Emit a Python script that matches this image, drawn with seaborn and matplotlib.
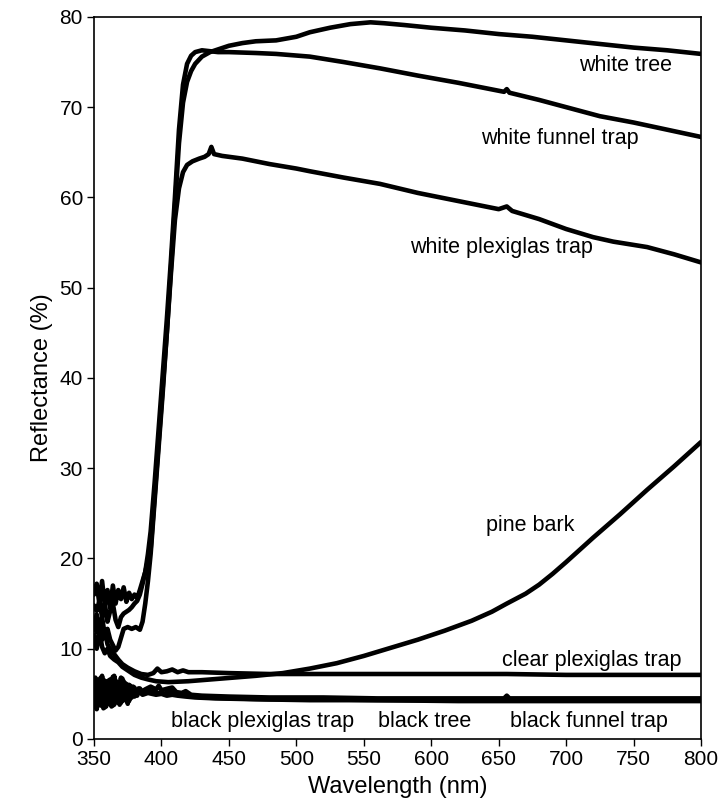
import matplotlib
matplotlib.use("Agg")
import matplotlib.pyplot as plt
import seaborn as sns
import pandas as pd

# ---------------- data ----------------
wt_wl = [350,352,354,356,358,360,362,364,366,368,370,372,374,376,378,380,382,384,386,388,390,392,395,398,401,404,407,410,413,416,419,422,425,430,436,442,450,460,470,485,500,510,525,540,555,565,580,600,625,650,675,700,725,750,775,800]
wt_r = [16.0,17.2,15.0,17.5,14.8,16.5,14.5,17.0,15.0,16.5,15.5,16.8,15.2,16.2,15.5,16.0,15.6,16.5,17.5,18.5,19.8,21.0,27.0,33.0,39.0,45.0,52.0,59.0,66.0,70.5,72.8,74.0,74.8,75.6,76.1,76.4,76.8,77.1,77.3,77.4,77.8,78.3,78.8,79.2,79.4,79.3,79.1,78.8,78.5,78.1,77.8,77.4,77.0,76.6,76.3,75.9]

wf_wl = [350,352,354,356,358,360,362,364,366,368,370,372,374,376,378,380,382,384,386,388,390,392,395,398,401,404,407,410,413,416,419,422,425,430,436,442,450,470,485,510,535,562,590,620,654,656,658,680,700,725,750,775,800]
wf_r = [14.8,14.2,15.3,13.5,15.0,13.0,14.2,15.0,13.2,12.4,13.5,13.9,14.1,14.3,14.6,15.0,15.3,16.0,17.2,18.5,20.5,23.0,28.5,34.5,40.5,46.5,53.0,60.0,67.5,72.5,74.8,75.7,76.1,76.3,76.2,76.1,76.1,76.0,75.9,75.6,75.0,74.3,73.5,72.7,71.7,72.0,71.6,70.8,70.0,69.0,68.3,67.5,66.7]

wp_wl = [350,352,354,356,358,360,362,364,366,368,370,372,375,378,381,384,386,388,390,392,395,398,401,404,407,410,413,416,419,423,428,432,435,437,439,445,460,480,500,510,535,562,590,620,650,656,660,680,700,720,735,760,780,800]
wp_r = [12.5,13.8,12.0,13.5,11.5,12.2,11.0,10.4,9.8,10.2,11.2,12.2,12.4,12.2,12.4,12.1,13.0,15.0,17.5,20.5,26.5,32.5,38.5,45.0,51.5,57.5,61.0,62.8,63.6,64.0,64.3,64.5,64.8,65.6,64.8,64.6,64.3,63.7,63.2,62.9,62.2,61.5,60.5,59.6,58.7,59.0,58.5,57.6,56.5,55.6,55.1,54.5,53.7,52.8]

pb_wl = [350,352,354,356,358,360,362,365,368,371,375,380,385,390,396,405,420,445,470,490,510,530,550,570,590,610,630,645,656,670,680,690,700,720,740,760,780,800]
pb_r = [11.5,10.0,12.0,10.2,9.5,10.0,9.2,8.8,8.5,8.0,7.6,7.1,6.8,6.6,6.4,6.3,6.4,6.7,7.0,7.3,7.8,8.4,9.2,10.1,11.0,12.0,13.1,14.1,15.0,16.1,17.1,18.3,19.6,22.3,24.9,27.6,30.2,32.9]

cp_wl = [350,352,354,356,358,360,362,365,368,371,375,380,385,390,394,397,400,404,408,412,416,420,430,450,480,520,570,620,656,700,750,800]
cp_r = [12.8,11.8,13.2,11.0,12.0,10.5,10.0,9.4,8.8,8.3,7.9,7.5,7.2,7.1,7.3,7.8,7.4,7.5,7.7,7.4,7.6,7.4,7.4,7.3,7.2,7.2,7.2,7.2,7.2,7.1,7.1,7.1]

bp_wl = [350,352,353,355,356,358,359,361,362,364,365,367,368,370,371,373,374,376,377,379,381,383,385,388,392,396,398,400,405,408,411,415,418,422,430,450,480,520,560,620,654,656,658,700,800]
bp_r = [4.5,6.5,3.8,6.8,4.0,6.2,3.6,6.5,4.2,6.9,3.8,6.0,4.5,6.8,4.2,6.2,4.6,6.0,4.5,5.8,4.8,5.6,5.2,5.5,5.8,5.5,5.9,5.4,5.6,5.7,5.2,5.1,5.3,4.9,4.8,4.7,4.6,4.6,4.5,4.5,4.5,4.8,4.5,4.5,4.5]

bt_wl = [350,351,353,354,356,357,359,360,362,363,365,366,368,369,371,372,374,375,377,378,380,382,384,387,390,394,398,402,406,410,415,420,430,450,480,520,560,620,700,800]
bt_r = [6.0,3.5,6.6,3.9,7.0,3.4,6.4,4.0,6.6,3.6,7.0,4.2,6.3,3.8,6.7,4.4,6.1,3.9,5.9,4.6,5.7,4.8,5.6,5.0,5.4,5.2,5.1,5.0,5.3,5.0,4.9,4.8,4.6,4.5,4.4,4.4,4.3,4.3,4.3,4.3]

bf_wl = [350,351,352,354,355,357,358,360,361,363,364,366,367,369,370,372,373,375,376,378,380,383,386,390,393,396,400,404,408,412,418,425,440,470,510,560,620,700,800]
bf_r = [5.2,6.8,3.3,5.9,3.7,6.6,3.5,6.0,3.9,6.3,3.7,6.5,4.1,6.1,4.0,6.4,4.3,5.8,4.2,5.6,4.7,5.3,4.9,5.1,5.0,4.9,5.0,4.8,4.9,4.8,4.7,4.6,4.5,4.4,4.3,4.3,4.2,4.2,4.2]

series = [
    ("white tree", wt_wl, wt_r),
    ("white funnel trap", wf_wl, wf_r),
    ("white plexiglas trap", wp_wl, wp_r),
    ("pine bark", pb_wl, pb_r),
    ("clear plexiglas trap", cp_wl, cp_r),
    ("black plexiglas trap", bp_wl, bp_r),
    ("black tree", bt_wl, bt_r),
    ("black funnel trap", bf_wl, bf_r),
]

# label positions (wavelength, reflectance) for in-plot annotations
labels = [
    ("white tree", 744, 74.6),
    ("white funnel trap", 695, 66.5),
    ("white plexiglas trap", 652, 54.5),
    ("pine bark", 673, 23.7),
    ("clear plexiglas trap", 719, 8.75),
    ("black plexiglas trap", 475, 1.9),
    ("black tree", 595, 1.9),
    ("black funnel trap", 717, 1.9),
]

x_ticks = [350, 400, 450, 500, 550, 600, 650, 700, 750, 800]
y_ticks = [0, 10, 20, 30, 40, 50, 60, 70, 80]

# ---------------- plot ----------------
sns.set_style("ticks")
plt.rcParams["font.family"] = ["Liberation Sans", "DejaVu Sans"]
plt.rcParams["text.color"] = "black"
plt.rcParams["axes.labelcolor"] = "black"
plt.rcParams["xtick.color"] = "black"
plt.rcParams["ytick.color"] = "black"

fig = plt.figure(figsize=(7.23, 8.05), dpi=100)
ax = fig.add_axes([0.130, 0.082, 0.8396, 0.897])

for name, wl, r in series:
    df = pd.DataFrame({"wl": wl, "r": r})
    sns.lineplot(data=df, x="wl", y="r", color="black", linewidth=3.3,
                 ax=ax, sort=False, estimator=None)

for text, x, y in labels:
    ax.text(x, y, text, ha="center", va="center", fontsize=15.5, color="black")

ax.set_xlim(350, 800)
ax.set_ylim(0, 80)
ax.set_xticks(x_ticks)
ax.set_yticks(y_ticks)
ax.tick_params(axis="both", direction="out", length=5, width=1, labelsize=15, pad=3)
for s in ax.spines.values():
    s.set_linewidth(1.2)
    s.set_color("black")
ax.set_xlabel("Wavelength (nm)", fontsize=17, labelpad=5)
ax.set_ylabel("Reflectance (%)", fontsize=17, labelpad=5)

fig.savefig("out.png", dpi=100)
